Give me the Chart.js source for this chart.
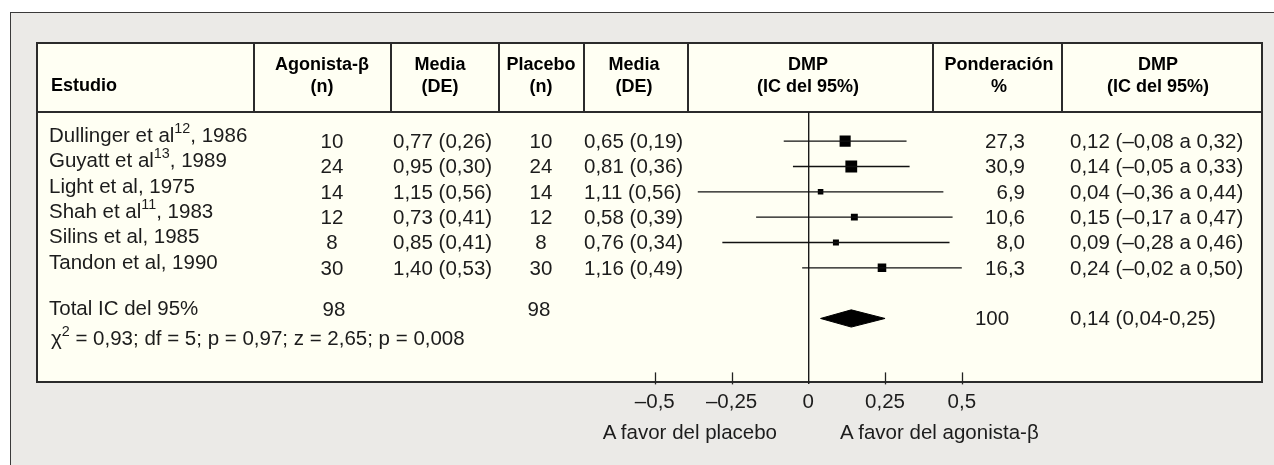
<!DOCTYPE html>
<html lang="es">
<head>
<meta charset="utf-8">
<script src="https://cdn.jsdelivr.net/npm/chart.js@4.4.1/dist/chart.umd.min.js"></script>
<style>
  body { margin: 0; background: #fff; font-family: 'Liberation Sans', Arial, Helvetica, sans-serif; }
  #pagina { position: relative; width: 1274px; height: 465px; overflow: hidden; }
  .marco { position: absolute; left: 10px; top: 12px; width: 1300px; height: 500px; background: #ebeae7;
           border-left: 1.5px solid #3a3a3a; border-top: 1.5px solid #3a3a3a; }
  .tabla { position: absolute; left: 36px; top: 42px; width: 1227px; height: 341px; box-sizing: border-box;
           background: #fffff3; border: 2px solid #2b2b2b; }
  .linea { position: absolute; background: #2b2b2b; }
  #grafico { position: absolute; left: 0; top: 0; z-index: 1; }
  .txt { position: absolute; z-index: 2; white-space: nowrap; line-height: 1; font-size: 20.5px; color: #1c1c1c; }
  .cab { font-weight: bold; font-size: 18px; color: #000; }
  sup { font-size: 0.7em; vertical-align: 0.6em; line-height: 0; }
</style>
</head>
<body>
<div id="pagina">
  <div class="marco"></div>
  <div class="tabla"></div>
  <canvas id="grafico" width="1274" height="465"></canvas>
</div>
<script>
const estudios = ['Dullinger et al', 'Guyatt et al', 'Light et al', 'Shah et al', 'Silins et al', 'Tandon et al'];
const referencias = ['12', '13', '', '11', '', ''];
const anios = [1986, 1989, 1975, 1983, 1985, 1990];
const nAgonista = [10, 24, 14, 12, 8, 30];
const mediaAgonista = [0.77, 0.95, 1.15, 0.73, 0.85, 1.40];
const deAgonista = [0.26, 0.30, 0.56, 0.41, 0.41, 0.53];
const nPlacebo = [10, 24, 14, 12, 8, 30];
const mediaPlacebo = [0.65, 0.81, 1.11, 0.58, 0.76, 1.16];
const dePlacebo = [0.19, 0.36, 0.56, 0.39, 0.34, 0.49];
const dmp = [0.12, 0.14, 0.04, 0.15, 0.09, 0.24];
const icInf = [-0.08, -0.05, -0.36, -0.17, -0.28, -0.02];
const icSup = [0.32, 0.33, 0.44, 0.47, 0.46, 0.50];
const ponderacion = [27.3, 30.9, 6.9, 10.6, 8.0, 16.3];

const totalAgonista = 98;
const totalPlacebo = 98;
const dmpTotal = 0.14;
const icTotal = [0.04, 0.25];
const ponderacionTotal = 100;

const valoresEje = [-0.5, -0.25, 0, 0.25, 0.5];
const etiquetasEje = ['–0,5', '–0,25', '0', '0,25', '0,5'];

const filaTotal = estudios.length + 1;
const altoRombo = 0.34;

function fmt(v, d) {
    return v.toFixed(d).replace('.', ',').replace('-', '–');
}

// lineas horizontales de los intervalos
var datasets = estudios.map((e, i) => ({
    type: 'line',
    data: [{x: icInf[i], y: i}, {x: icSup[i], y: i}],
    borderColor: '#111',
    borderWidth: 1.3,
    pointRadius: 0,
    fill: false
}));

datasets.push({
    type: 'scatter',
    data: dmp.map((v, i) => ({x: v, y: i})),
    pointStyle: 'rect',
    pointRadius: ponderacion.map(w => 1.5 * Math.sqrt(w)),
    backgroundColor: '#000',
    borderWidth: 0
});

// rombo del total
datasets.push({
    type: 'line',
    data: [
        {x: icTotal[0], y: filaTotal},
        {x: dmpTotal, y: filaTotal - altoRombo},
        {x: icTotal[1], y: filaTotal},
        {x: dmpTotal, y: filaTotal + altoRombo},
        {x: icTotal[0], y: filaTotal}
    ],
    fill: 'shape',
    backgroundColor: '#000',
    borderColor: '#000',
    borderWidth: 1,
    pointRadius: 0,
    tension: 0
});

const marcasEje = {
    id: 'marcasEje',
    afterDatasetsDraw(chart) {
        const {ctx, chartArea, scales: {x}} = chart;
        ctx.save();
        ctx.strokeStyle = '#222';
        ctx.lineWidth = 1.3;
        x.ticks.forEach(t => {
            if (t.value === 0) return;
            const px = Math.round(x.getPixelForValue(t.value)) + 0.5;
            ctx.beginPath();
            ctx.moveTo(px, chartArea.bottom);
            ctx.lineTo(px, chartArea.bottom - 12);
            ctx.stroke();
        });
        ctx.restore();
    }
};

const chart = new Chart(document.getElementById('grafico'), {
    type: 'scatter',
    data: { datasets },
    plugins: [marcasEje],
    options: {
        responsive: false,
        animation: false,
        events: [],
        layout: { padding: { left: 624.1, right: 281.5, top: 112, bottom: 44 } },
        plugins: { legend: { display: false }, tooltip: { enabled: false } },
        scales: {
            x: {
                type: 'linear',
                min: -0.6,
                max: 0.6,
                afterBuildTicks: (s) => { s.ticks = valoresEje.map(v => ({value: v})); },
                ticks: {
                    autoSkip: false,
                    maxRotation: 0,
                    padding: 6,
                    color: '#1c1c1c',
                    font: { family: "'Liberation Sans', Arial, sans-serif", size: 20.5 },
                    callback: (v) => etiquetasEje[valoresEje.indexOf(v)]
                },
                grid: {
                    drawTicks: false,
                    lineWidth: 1.4,
                    color: (c) => c.tick && c.tick.value === 0 ? '#1a1a1a' : 'rgba(0,0,0,0)'
                },
                border: { display: false }
            },
            y: {
                type: 'linear',
                display: false,
                reverse: true,
                min: -1.151,
                max: 9.603
            }
        }
    }
});

const pagina = document.getElementById('pagina');

function texto(html, x, y, align, cls) {
    const d = document.createElement('div');
    d.className = 'txt' + (cls ? ' ' + cls : '');
    d.innerHTML = html;
    d.style.left = x + 'px';
    d.style.top = y + 'px';
    const tx = align === 'center' ? '-50%' : (align === 'right' ? '-100%' : '0');
    d.style.transform = 'translate(' + tx + ', -50%)';
    pagina.appendChild(d);
}

function linea(x, y, w, h) {
    const d = document.createElement('div');
    d.className = 'linea';
    d.style.left = x + 'px';
    d.style.top = y + 'px';
    d.style.width = w + 'px';
    d.style.height = h + 'px';
    pagina.appendChild(d);
}

// cabecera
linea(36, 111, 1227, 2);
[253, 390, 498, 583, 687, 932, 1061].forEach(x => linea(x, 42, 1.5, 70));

texto('Estudio', 51, 85, 'left', 'cab');
texto('Agonista-β', 322, 64, 'center', 'cab');
texto('(n)', 322, 86, 'center', 'cab');
texto('Media', 440, 64, 'center', 'cab');
texto('(DE)', 440, 86, 'center', 'cab');
texto('Placebo', 541, 64, 'center', 'cab');
texto('(n)', 541, 86, 'center', 'cab');
texto('Media', 634, 64, 'center', 'cab');
texto('(DE)', 634, 86, 'center', 'cab');
texto('DMP', 808, 64, 'center', 'cab');
texto('(IC del 95%)', 808, 86, 'center', 'cab');
texto('Ponderación', 999, 64, 'center', 'cab');
texto('%', 999, 86, 'center', 'cab');
texto('DMP', 1158, 64, 'center', 'cab');
texto('(IC del 95%)', 1158, 86, 'center', 'cab');

// filas de estudios, alineadas con la escala y del grafico
const ey = chart.scales.y;
estudios.forEach((e, i) => {
    const y = ey.getPixelForValue(i);
    const sup = referencias[i] ? '<sup>' + referencias[i] + '</sup>' : '';
    texto(e + sup + ', ' + anios[i], 49, y - 6, 'left');
    texto(String(nAgonista[i]), 332, y, 'center');
    texto(fmt(mediaAgonista[i], 2) + ' (' + fmt(deAgonista[i], 2) + ')', 393, y, 'left');
    texto(String(nPlacebo[i]), 541, y, 'center');
    texto(fmt(mediaPlacebo[i], 2) + ' (' + fmt(dePlacebo[i], 2) + ')', 584, y, 'left');
    texto(fmt(ponderacion[i], 1), 1025, y, 'right');
    texto(fmt(dmp[i], 2) + ' (' + fmt(icInf[i], 2) + ' a ' + fmt(icSup[i], 2) + ')', 1070, y, 'left');
});

const yt = ey.getPixelForValue(filaTotal);
texto('Total IC del 95%', 49, yt - 10, 'left');
texto(String(totalAgonista), 334, yt - 9, 'center');
texto(String(totalPlacebo), 539, yt - 9, 'center');
texto(String(ponderacionTotal), 992, yt, 'center');
texto(fmt(dmpTotal, 2) + ' (' + fmt(icTotal[0], 2) + '-' + fmt(icTotal[1], 2) + ')', 1070, yt, 'left');
texto('χ<sup>2</sup> = 0,93; df = 5; p = 0,97; z = 2,65; p = 0,008', 51, 338, 'left');

texto('A favor del placebo', 777, 432, 'right');
texto('A favor del agonista-β', 840, 432, 'left');
</script>
</body>
</html>
